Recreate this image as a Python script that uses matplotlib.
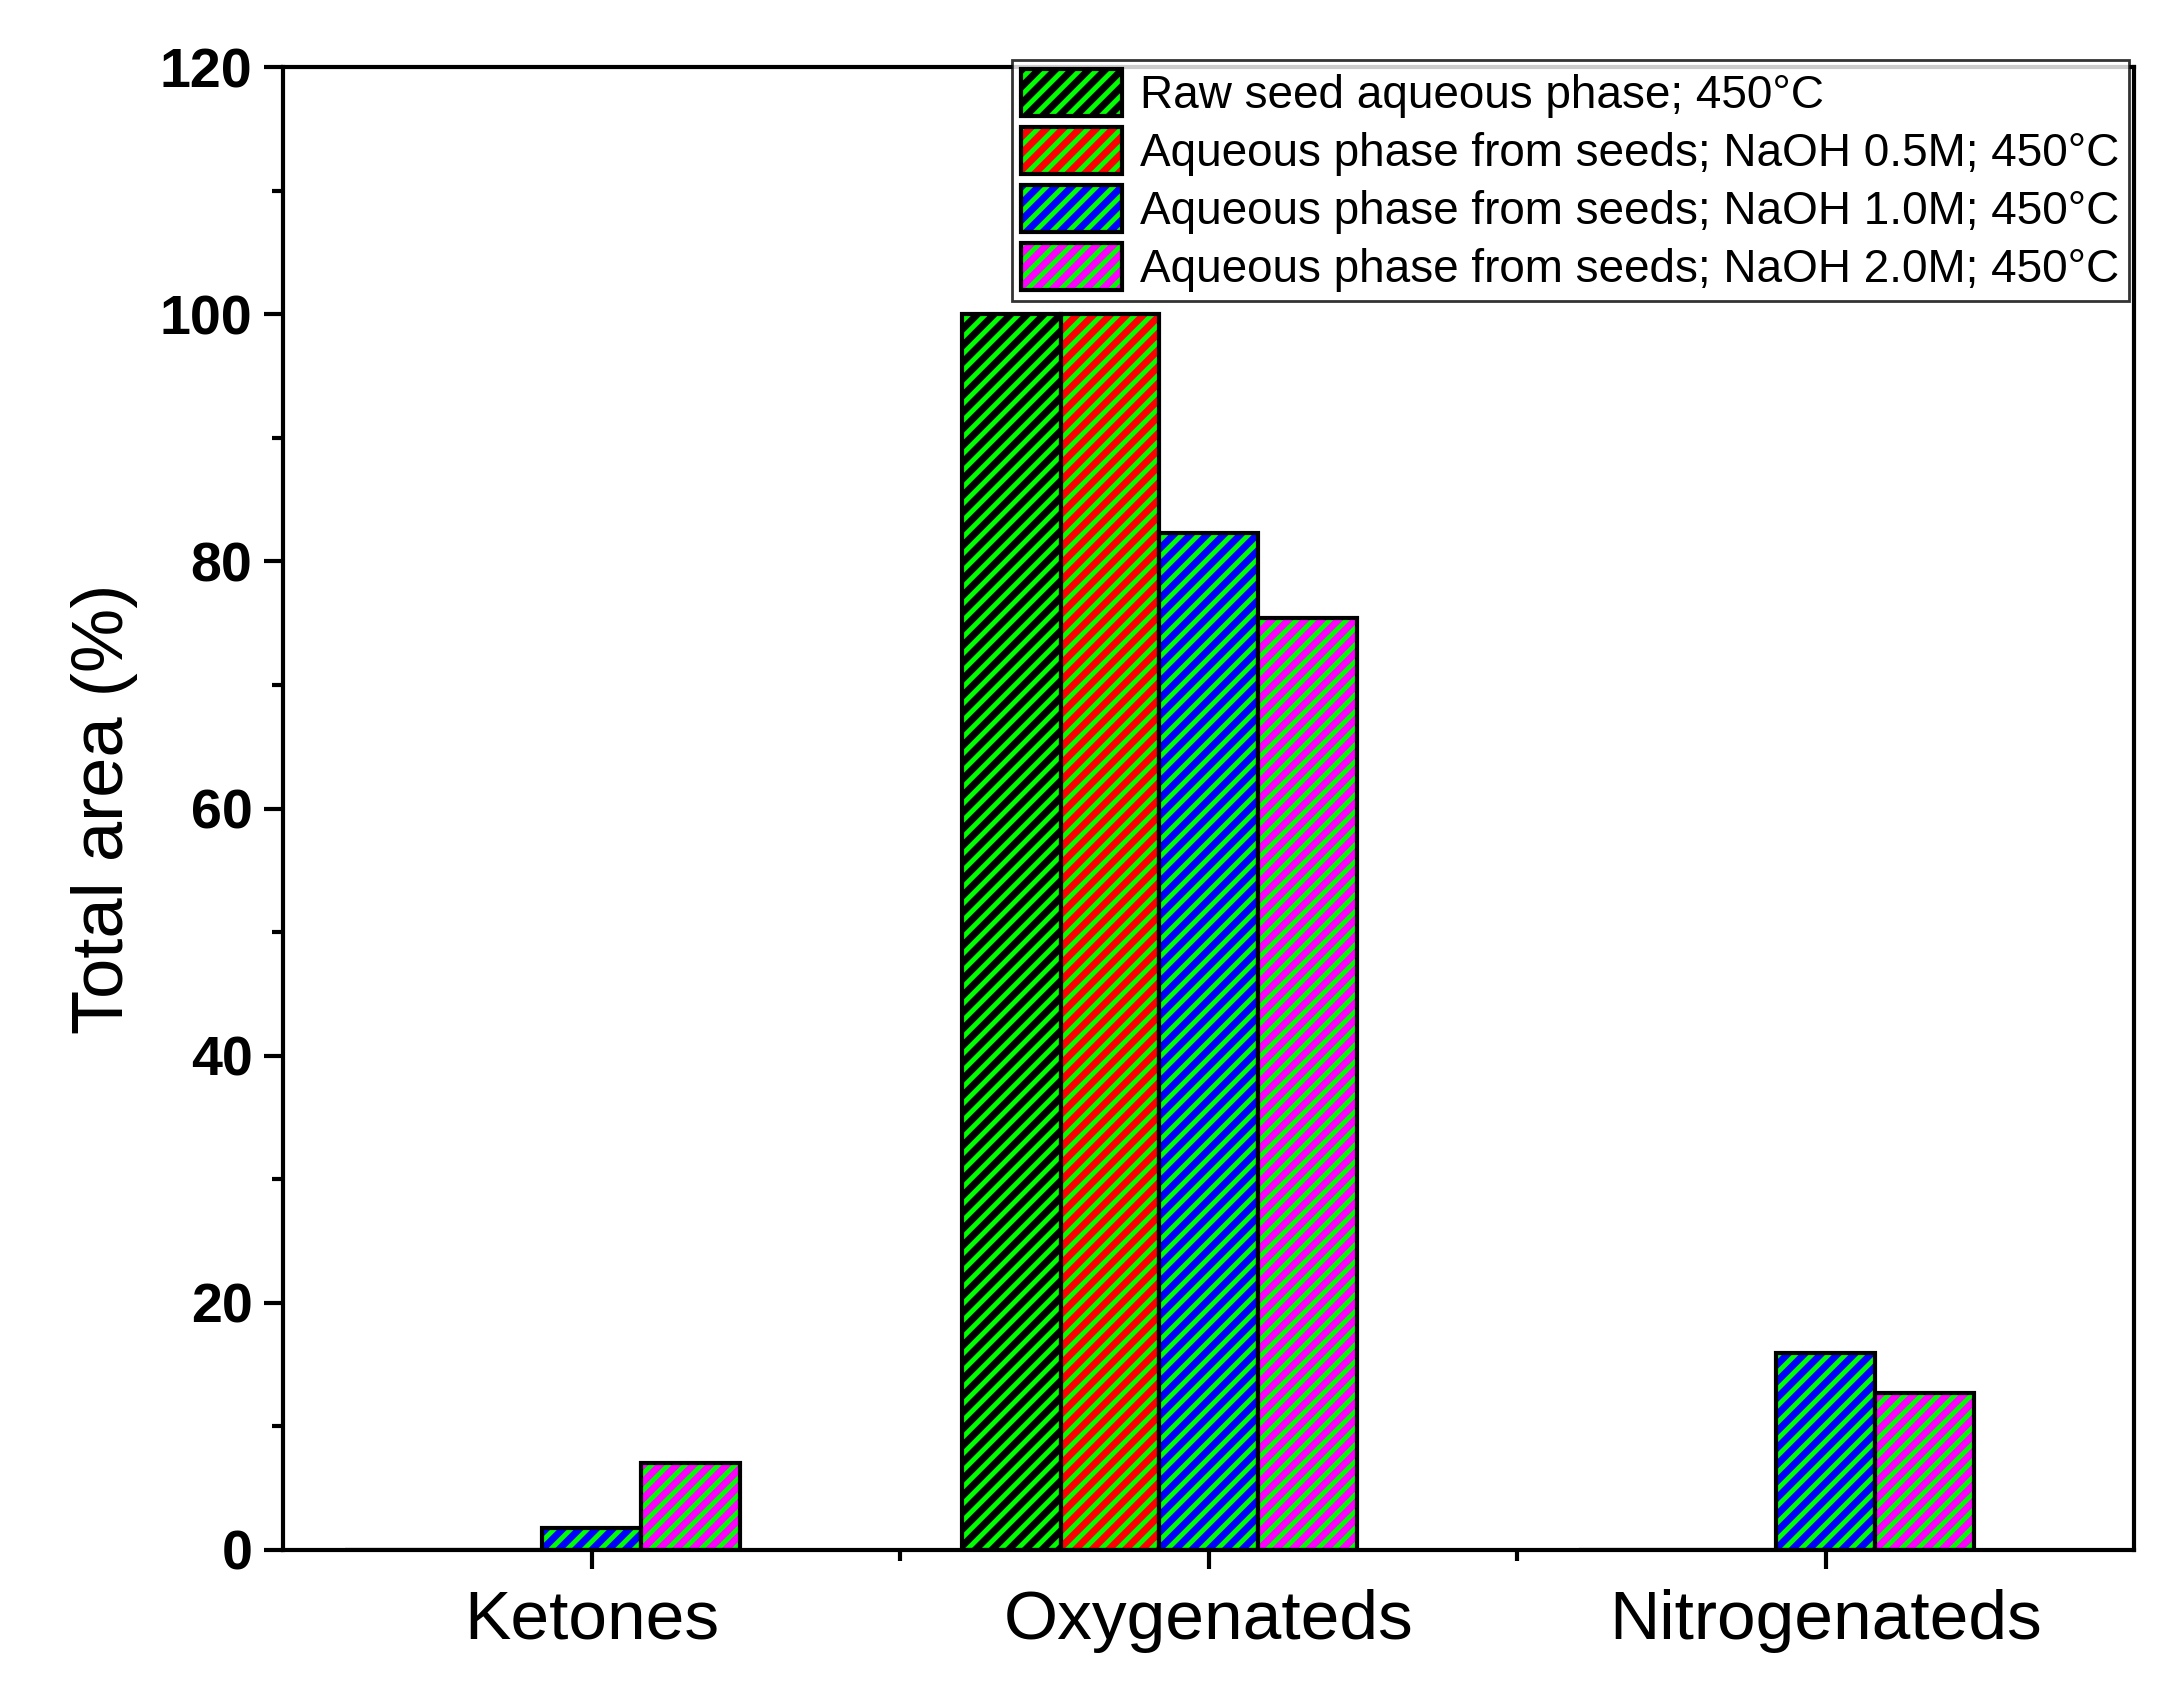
import matplotlib
matplotlib.use("Agg")
import matplotlib.pyplot as plt
import numpy as np

plt.rcParams["font.family"] = "Liberation Sans"
plt.rcParams["hatch.linewidth"] = 3.5

categories = ["Ketones", "Oxygenateds", "Nitrogenateds"]
series = [
    "Raw seed aqueous phase; 450°C",
    "Aqueous phase from seeds; NaOH 0.5M; 450°C",
    "Aqueous phase from seeds; NaOH 1.0M; 450°C",
    "Aqueous phase from seeds; NaOH 2.0M; 450°C",
]
raw = [0, 100, 0]
naoh05 = [0, 100, 0]
naoh10 = [1.8, 82.3, 15.9]
naoh20 = [7.0, 75.4, 12.7]
colors = ["#000000", "#ff0000", "#0000ff", "#ff00ff"]
HATCH_GREEN = "#00ff00"

fig = plt.figure(figsize=(21.69, 16.98), dpi=100)
ax = fig.add_axes([0.1305, 0.0872, 0.8535, 0.8733])

x = np.arange(1, len(categories) + 1)
w = 0.16
handles = []
for i, (vals, c) in enumerate(zip([raw, naoh05, naoh10, naoh20], colors)):
    pos = x + (i - 2) * w
    # fill + green hatch, then black outline on top
    fill = ax.bar(pos, vals, w, color=c, edgecolor=HATCH_GREEN, linewidth=0, hatch="//")
    edge = ax.bar(pos, vals, w, color="none", edgecolor="black", linewidth=3)
    handles.append((fill, edge))

ax.set_xlim(0.5, 3.5)
ax.set_ylim(0, 120)
ax.set_xticks(x)
ax.set_xticklabels(categories, fontsize=50)
ax.set_xticks([1.5, 2.5], minor=True)
ax.set_yticks(np.arange(0, 121, 20))
ax.set_yticks(np.arange(0, 121, 10), minor=True)
for t in ax.get_yticklabels():
    t.set_fontweight("bold")
    t.set_fontsize(40)
ax.tick_params(axis="both", which="major", direction="out", length=14, width=3, pad=8)
ax.tick_params(axis="both", which="minor", direction="out", length=8, width=3)
ax.tick_params(axis="x", which="major", pad=14)
for s in ax.spines.values():
    s.set_linewidth(3)
ax.set_ylabel("Total area (%)", fontsize=52, labelpad=16)

leg = ax.legend(handles, series, loc="upper right", bbox_to_anchor=(0.0, 0.0, 0.997, 1.005),
                fontsize=33, frameon=True, fancybox=False, edgecolor="black",
                handlelength=2.2, handleheight=1.2, borderpad=0.2, labelspacing=0.2,
                handletextpad=0.4, borderaxespad=0.0)
leg.get_frame().set_linewidth(2)

fig.savefig("out.png", dpi=100)
